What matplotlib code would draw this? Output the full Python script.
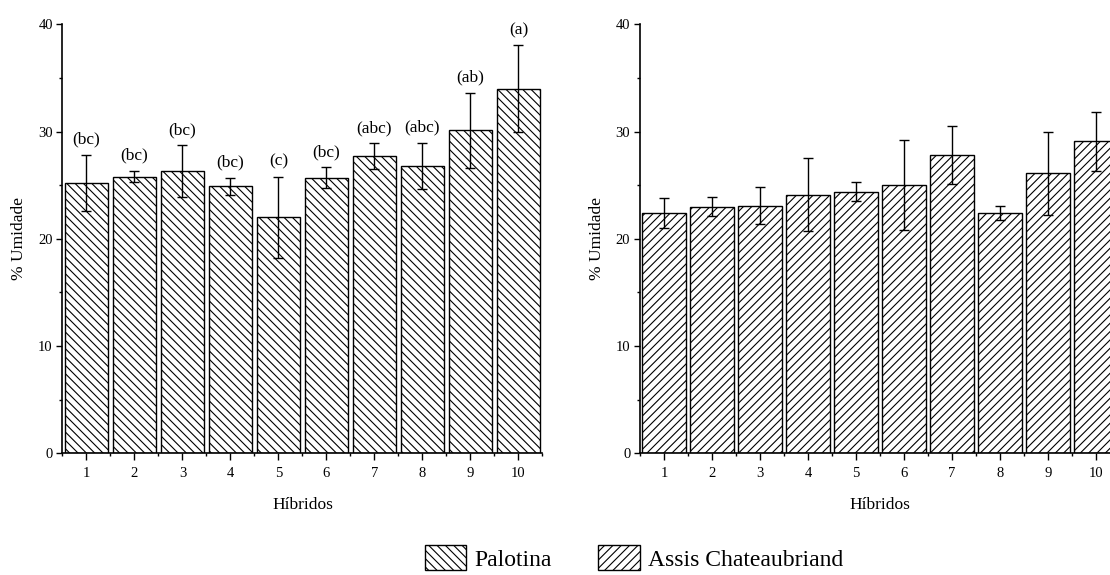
import matplotlib.pyplot as plt
from matplotlib.patches import Patch
from matplotlib.ticker import MultipleLocator

plt.rcParams['font.family'] = ['Liberation Serif', 'DejaVu Serif']
plt.rcParams['hatch.linewidth'] = 0.8

hibridos = [1, 2, 3, 4, 5, 6, 7, 8, 9, 10]

palotina = [25.2, 25.8, 26.3, 24.9, 22.0, 25.7, 27.7, 26.8, 30.1, 34.0]
palotina_err = [2.65, 0.55, 2.4, 0.8, 3.75, 0.95, 1.2, 2.15, 3.5, 4.05]
letras = ['(bc)', '(bc)', '(bc)', '(bc)', '(c)', '(bc)', '(abc)', '(abc)', '(ab)', '(a)']

assis = [22.4, 23.0, 23.1, 24.1, 24.4, 25.0, 27.8, 22.4, 26.1, 29.1]
assis_err = [1.4, 0.9, 1.75, 3.4, 0.9, 4.2, 2.7, 0.65, 3.85, 2.75]

fig = plt.figure(figsize=(11.1, 5.75), dpi=100)
ax1 = fig.add_axes([0.0563, 0.2116, 0.4324, 0.7462])
ax2 = fig.add_axes([0.5766, 0.2116, 0.4324, 0.7462])


def painel(ax, vals, errs, hatch):
    ax.bar(hibridos, vals, width=0.9, color='white', edgecolor='black',
           linewidth=1.0, hatch=hatch)
    ax.errorbar(hibridos, vals, yerr=errs, fmt='none', ecolor='black',
                elinewidth=1.0, capsize=3.5, capthick=1.0)
    ax.set_xlim(0.5, 10.5)
    ax.set_ylim(0, 40)
    ax.set_xticks(hibridos)
    ax.set_xticks([h + 0.5 for h in hibridos[:-1]] + [0.5, 10.5], minor=True)
    ax.yaxis.set_major_locator(MultipleLocator(10))
    ax.yaxis.set_minor_locator(MultipleLocator(5))
    ax.tick_params(axis='x', which='major', direction='out', length=5,
                   width=1.0, labelsize=10.5, pad=5)
    ax.tick_params(axis='y', which='major', direction='out', length=4,
                   width=1.0, labelsize=10.5, pad=3)
    ax.tick_params(which='minor', direction='out', length=2.5, width=1.0)
    ax.spines['top'].set_visible(False)
    ax.spines['right'].set_visible(False)
    ax.spines['left'].set_linewidth(1.2)
    ax.spines['bottom'].set_linewidth(1.2)
    ax.set_xlabel('Híbridos', fontsize=12.5, labelpad=12)
    ax.set_ylabel('% Umidade', fontsize=12.5, labelpad=8)


painel(ax1, palotina, palotina_err, '\\\\\\\\')
painel(ax2, assis, assis_err, '////')

for x, v, e, t in zip(hibridos, palotina, palotina_err, letras):
    ax1.annotate(t, (x, v + e), xytext=(0, 11), textcoords='offset points',
                 ha='center', va='center', fontsize=12.5)

handles = [Patch(facecolor='white', edgecolor='black', hatch='\\\\\\\\'),
           Patch(facecolor='white', edgecolor='black', hatch='////')]
fig.legend(handles, ['Palotina', 'Assis Chateaubriand'], loc='center',
           bbox_to_anchor=(0.571, 0.03), ncol=2, frameon=False, fontsize=17,
           handlelength=1.74, handleheight=1.27, handletextpad=0.35,
           columnspacing=2.0, borderpad=0)

fig.savefig('out.png', dpi=100)
